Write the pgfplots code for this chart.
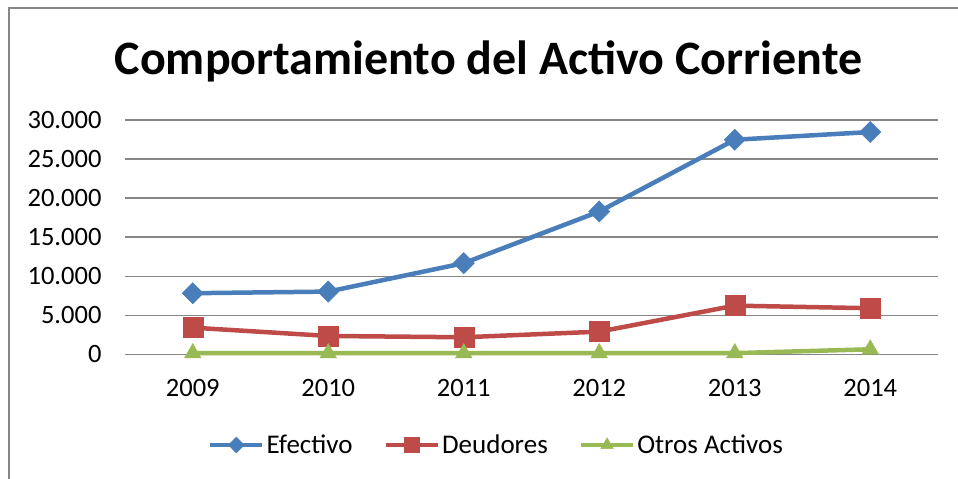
\documentclass[border=0pt]{standalone}
\usepackage{pgfplots}
\pgfplotsset{compat=1.18}
\usepackage{fontspec}
\setmainfont{Carlito}
\definecolor{cblue}{RGB}{74,126,187}
\definecolor{cred}{RGB}{190,75,72}
\definecolor{cgreen}{RGB}{152,185,84}
\definecolor{cgrid}{RGB}{134,134,134}
\begin{document}
\begin{tikzpicture}[x=1pt,y=1pt]
\path[use as bounding box] (0,0) rectangle (958,479);
\draw[cgrid, line width=1.5pt] (9,0) -- (9,471) -- (958,471);
\node[anchor=base, font=\fontsize{48}{58}\selectfont\bfseries] at (488.5,404) {Comportamiento del Activo Corriente};
\begin{axis}[
  at={(125pt,124.7pt)}, anchor=south west,
  scale only axis, width=813pt, height=234.3pt,
  xmin=-0.5, xmax=5.5, ymin=0, ymax=30000,
  scaled y ticks=false,
  axis line style={draw=none},
  major tick length=0pt,
  ymajorgrids, grid style={cgrid, line width=1.3pt},
  xtick={0,1,2,3,4,5}, xticklabels={2009,2010,2011,2012,2013,2014},
  ytick={0,5000,10000,15000,20000,25000,30000},
  yticklabels={0,5.000,10.000,15.000,20.000,25.000,30.000},
  ticklabel style={font=\fontsize{26.5}{30}\selectfont},
  yticklabel style={xshift=-20pt},
  xticklabel style={yshift=-21pt},
  clip=false,
  legend style={at={(0.457,-0.387)}, anchor=center, draw=none, fill=none,
    font=\fontsize{27}{31}\selectfont,
    /tikz/every even column/.append style={column sep=29pt}},
  legend columns=-1,
  legend image code/.code={
    \draw[mark repeat=2,mark phase=2,#1, every mark/.append style={scale=0.75}]
      plot coordinates {(0pt,0pt) (26pt,0pt) (52pt,0pt)};
  },
]
\addplot[cblue, line width=4.5pt, mark=square*, mark size=7.5pt,
  mark options={rotate=45, solid, line width=0.5pt, fill=cblue}]
  coordinates {(0,7820) (1,8030) (2,11670) (3,18280) (4,27470) (5,28460)};
\addlegendentry{Efectivo}
\addplot[cred, line width=4.5pt, mark=square*, mark size=10pt,
  mark options={solid, line width=0.5pt, fill=cred}]
  coordinates {(0,3410) (1,2350) (2,2180) (3,2900) (4,6230) (5,5900)};
\addlegendentry{Deudores}
\addplot[cgreen, line width=4.5pt, mark=triangle*, mark size=9.5pt,
  mark options={solid, line width=0.5pt, fill=cgreen}]
  coordinates {(0,150) (1,150) (2,150) (3,150) (4,150) (5,640)};
\addlegendentry{Otros Activos}
\end{axis}
\end{tikzpicture}
\end{document}
